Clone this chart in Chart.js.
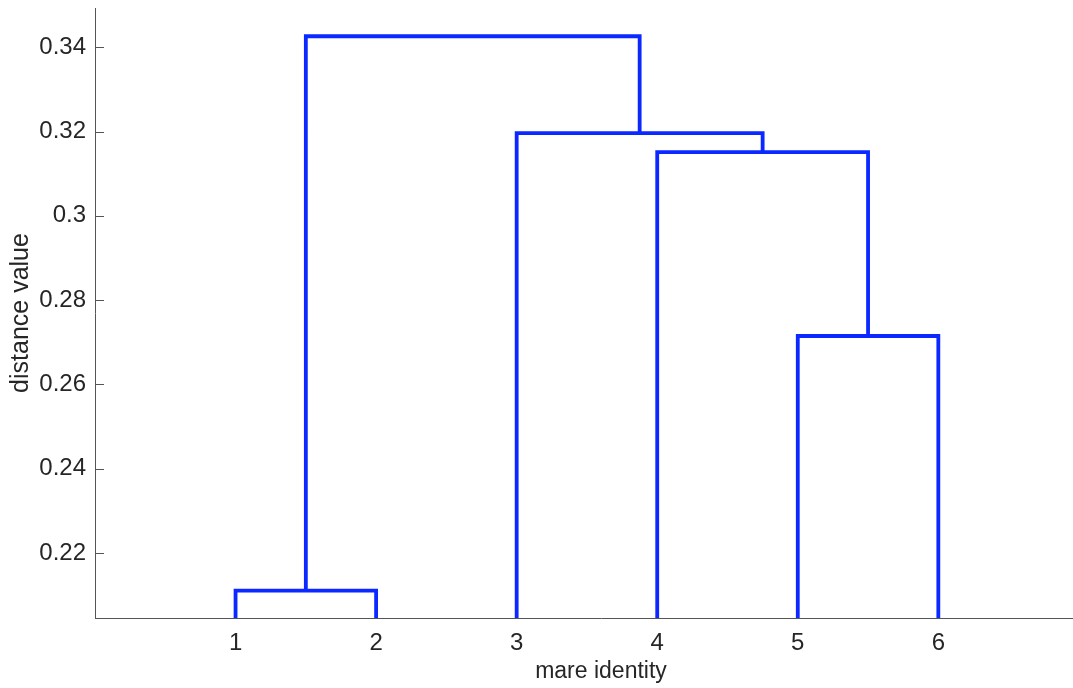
<!DOCTYPE html>
<html>
<head>
<meta charset="utf-8">
<title>mare dendrogram</title>
<script src="https://cdn.jsdelivr.net/npm/chart.js@4.4.1/dist/chart.umd.min.js"></script>
<style>
  html, body { margin: 0; padding: 0; background: #fff; overflow: hidden; }
  canvas { display: block; }
</style>
</head>
<body>
<canvas id="myDendrogram" width="1107" height="688"></canvas>
<script>
// leaves, left to right
var leafIds = [1, 2, 3, 4, 5, 6];
var xTickLabels = ["1", "2", "3", "4", "5", "6"];
// linkage: cluster 7..11 built from these pairs
var mergeLeft = [1, 5, 4, 3, 7];
var mergeRight = [2, 6, 8, 9, 10];
var mergeHeight = [0.2111, 0.2715, 0.3151, 0.3196, 0.3426];
var yTicks = [0.22, 0.24, 0.26, 0.28, 0.30, 0.32, 0.34];

var lineColor = 'rgb(10,40,255)';
var axisColor = '#555';
var textColor = '#262626';
var font = "'Liberation Sans', Arial, Helvetica, sans-serif";

// node positions: leaves sit at their index, merges at the middle of their children
var nodeX = {}, nodeY = {};
leafIds.forEach(function (id, i) { nodeX[id] = i + 1; nodeY[id] = 0; });

var datasets = [];
mergeHeight.forEach(function (h, i) {
  var id = leafIds.length + 1 + i;
  var a = mergeLeft[i], b = mergeRight[i];
  nodeX[id] = (nodeX[a] + nodeX[b]) / 2;
  nodeY[id] = h;
  datasets.push({
    data: [
      { x: nodeX[a], y: nodeY[a] },
      { x: nodeX[a], y: h },
      { x: nodeX[b], y: h },
      { x: nodeX[b], y: nodeY[b] }
    ],
    borderColor: lineColor,
    borderWidth: 3.8,
    borderJoinStyle: 'miter',
    pointRadius: 0,
    tension: 0,
    fill: false
  });
});

// small inward tick marks like matlab
var innerTicks = {
  id: 'innerTicks',
  beforeDatasetsDraw: function (chart) {
    var c = chart.ctx, a = chart.chartArea;
    var xs = chart.scales.x, ys = chart.scales.y;
    c.save();
    c.strokeStyle = axisColor;
    c.lineWidth = 1;
    c.beginPath();
    ys.ticks.forEach(function (t) {
      var p = Math.round(ys.getPixelForValue(t.value)) + 0.5;
      c.moveTo(a.left, p); c.lineTo(a.left + 9, p);
    });
    xs.ticks.forEach(function (t) {
      var p = Math.round(xs.getPixelForValue(t.value)) + 0.5;
      c.moveTo(p, a.bottom); c.lineTo(p, a.bottom - 9);
    });
    c.stroke();
    c.restore();
  }
};

new Chart(document.getElementById("myDendrogram"), {
  type: 'line',
  data: { datasets: datasets },
  plugins: [innerTicks],
  options: {
    responsive: false,
    animation: false,
    layout: { padding: { top: 8, right: 0, bottom: 0, left: 0 } },
    plugins: {
      legend: { display: false },
      tooltip: { enabled: false }
    },
    scales: {
      x: {
        type: 'linear',
        min: 0,
        max: 7.2,
        afterBuildTicks: function (s) { s.ticks = leafIds.map(function (v) { return { value: v }; }); },
        afterFit: function (s) { s.height = 70; s.paddingLeft = 0; s.paddingRight = 0; },
        ticks: {
          color: textColor,
          font: { family: font, size: 24 },
          padding: 11,
          maxRotation: 0,
          callback: function (v, i) { return xTickLabels[i]; }
        },
        grid: { display: false, drawTicks: false },
        border: { display: true, color: axisColor, width: 1 },
        title: {
          display: true,
          text: 'mare identity',
          color: textColor,
          font: { family: font, size: 23 },
          padding: { top: 0, bottom: 3 }
        }
      },
      y: {
        min: 0.2046,
        max: 0.3493,
        afterBuildTicks: function (s) { s.ticks = yTicks.map(function (v) { return { value: v }; }); },
        afterFit: function (s) { s.width = 95; s.paddingTop = 0; s.paddingBottom = 0; },
        ticks: {
          color: textColor,
          font: { family: font, size: 24 },
          padding: 9,
          callback: function (v) { return String(+v.toFixed(2)); }
        },
        grid: { display: false, drawTicks: false },
        border: { display: true, color: axisColor, width: 1 },
        title: {
          display: true,
          text: 'distance value',
          color: textColor,
          font: { family: font, size: 25 },
          padding: { top: 6, bottom: 0 }
        }
      }
    }
  }
});
</script>
</body>
</html>
